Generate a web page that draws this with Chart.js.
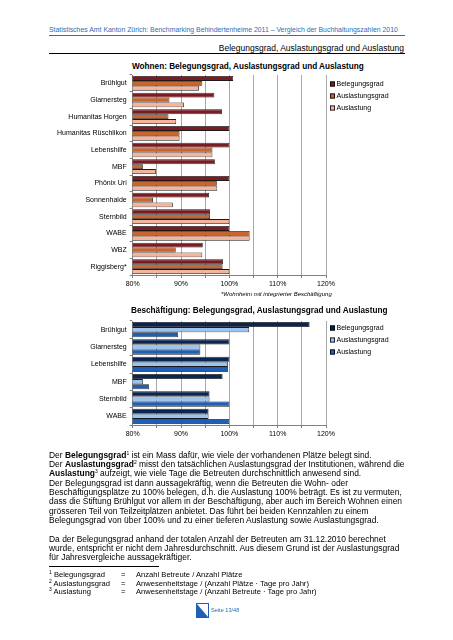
<!DOCTYPE html>
<html>
<head>
<meta charset="utf-8">
<script src="https://cdn.jsdelivr.net/npm/chart.js@4/dist/chart.umd.min.js"></script>
<style>
  body { margin: 0; background: #fff; width: 453px; height: 640px; position: relative; overflow: hidden;
         font-family: "Liberation Sans", Arial, sans-serif; color: #000; }
  .abs { position: absolute; white-space: nowrap; }
  .line { position: absolute; left: 49px; white-space: nowrap; font-size: 8.45px; line-height: 10px; }
  sup { font-size: 5px; vertical-align: 3px; line-height: 0; }
  canvas { position: absolute; left: 0; }
</style>
</head>
<body>

<div class="abs" style="left:49px; top:25.5px; font-size:6.9px; color:#2f6db5;">Statistisches Amt Kanton Zürich: Benchmarking Behindertenheime 2011 – Vergleich der Buchhaltungszahlen 2010</div>
<div class="abs" style="left:49px; top:35px; width:356px; height:1px; background:#2f6db5;"></div>
<div class="abs" style="right:49px; top:43px; font-size:8.5px;">Belegungsgrad, Auslastungsgrad und Auslastung</div>
<div class="abs" style="left:49px; top:53px; width:356px; height:1px; background:#000;"></div>

<div class="abs" style="left:132px; top:62px; font-size:8.2px; font-weight:bold;">Wohnen: Belegungsgrad, Auslastungsgrad und Auslastung</div>
<canvas id="wohnen" width="453" height="240" style="top:60px"></canvas>
<div class="abs" style="left:221px; top:290.5px; font-size:6px; font-style:italic;">*Wohnheim mit integrierter Beschäftigung</div>

<div class="abs" style="left:131px; top:306px; font-size:8.2px; font-weight:bold;">Beschäftigung: Belegungsgrad, Auslastungsgrad und Auslastung</div>
<canvas id="beschaeftigung" width="453" height="140" style="top:310px"></canvas>

<div class="line" style="top:450px">Der <b>Belegungsgrad</b><sup>1</sup> ist ein Mass dafür, wie viele der vorhandenen Plätze belegt sind.</div>
<div class="line" style="top:459px">Der <b>Auslastungsgrad</b><sup>2</sup> misst den tatsächlichen Auslastungsgrad der Institutionen, während die</div>
<div class="line" style="top:468px"><b>Auslastung</b><sup>3</sup> aufzeigt, wie viele Tage die Betreuten durchschnittlich anwesend sind.</div>
<div class="line" style="top:477.5px">Der Belegungsgrad ist dann aussagekräftig, wenn die Betreuten die Wohn- oder</div>
<div class="line" style="top:487px">Beschäftigungsplätze zu 100% belegen, d.h. die Auslastung 100% beträgt. Es ist zu vermuten,</div>
<div class="line" style="top:496px">dass die Stiftung Brühlgut vor allem in der Beschäftigung, aber auch im Bereich Wohnen einen</div>
<div class="line" style="top:505.5px">grösseren Teil von Teilzeitplätzen anbietet. Das führt bei beiden Kennzahlen zu einem</div>
<div class="line" style="top:515px">Belegungsgrad von über 100% und zu einer tieferen Auslastung sowie Auslastungsgrad.</div>
<div class="line" style="top:533.5px">Da der Belegungsgrad anhand der totalen Anzahl der Betreuten am 31.12.2010 berechnet</div>
<div class="line" style="top:542.5px">wurde, entspricht er nicht dem Jahresdurchschnitt. Aus diesem Grund ist der Auslastungsgrad</div>
<div class="line" style="top:551.5px">für Jahresvergleiche aussagekräftiger.</div>

<div class="abs" style="left:49px; top:566px; width:110px; height:1px; background:#000;"></div>
<div class="abs" style="left:49px; top:570px; font-size:7.6px; line-height:9px;"><sup>1</sup> Belegungsgrad</div>
<div class="abs" style="left:121px; top:570px; font-size:7.6px; line-height:9px;">=</div>
<div class="abs" style="left:136px; top:570px; font-size:7.6px; line-height:9px;">Anzahl Betreute / Anzahl Plätze</div>
<div class="abs" style="left:49px; top:578.5px; font-size:7.6px; line-height:9px;"><sup>2</sup> Auslastungsgrad</div>
<div class="abs" style="left:121px; top:578.5px; font-size:7.6px; line-height:9px;">=</div>
<div class="abs" style="left:136px; top:578.5px; font-size:7.6px; line-height:9px;">Anwesenheitstage / (Anzahl Plätze · Tage pro Jahr)</div>
<div class="abs" style="left:49px; top:587px; font-size:7.6px; line-height:9px;"><sup>3</sup> Auslastung</div>
<div class="abs" style="left:121px; top:587px; font-size:7.6px; line-height:9px;">=</div>
<div class="abs" style="left:136px; top:587px; font-size:7.6px; line-height:9px;">Anwesenheitstage / (Anzahl Betreute · Tage pro Jahr)</div>

<svg class="abs" style="left:196px; top:603px;" width="13" height="15">
  <rect x="0.5" y="0.5" width="12" height="14" fill="#fff" stroke="#1f5fb5" stroke-width="1"/>
  <polygon points="0.5,0.5 12.5,14.5 0.5,14.5" fill="#1f5fb5"/>
</svg>
<div class="abs" style="left:211px; top:607px; font-size:5.6px; color:#2f6db5;">Seite 13/48</div>

<script>
// Wohnen
const wohnenLabels = ['Brühlgut', 'Glarnersteg', 'Humanitas Horgen', 'Humanitas Rüschlikon', 'Lebenshilfe', 'MBF',
                      'Phönix Uri', 'Sonnenhalde', 'Sternbild', 'WABE', 'WBZ', 'Riggisberg*'];
const wohnenBelegungsgrad   = [100.8, 96.9, 98.5, 100, 100, 97.0, 100, 95.8, 96.0, 100, 94.5, 98.7];
const wohnenAuslastungsgrad = [94.4, 87.6, 87.4, 89.7, 96.5, 82.1, 97.4, 84.2, 96.0, 104.2, 88.9, 98.6];
const wohnenAuslastung      = [93.7, 90.6, 89.0, 89.7, 96.5, 84.8, 97.5, 88.3, 100, 104.2, 94.4, 100];

// Beschäftigung
const beschLabels = ['Brühlgut', 'Glarnersteg', 'Lebenshilfe', 'MBF', 'Sternbild', 'WABE'];
const beschBelegungsgrad   = [116.6, 100, 100, 98.6, 95.9, 95.7];
const beschAuslastungsgrad = [104.1, 94.0, 99.7, 82.1, 95.9, 95.7];
const beschAuslastung      = [89.4, 94.0, 99.7, 83.4, 100, 100];

const seriesNames = ['Belegungsgrad', 'Auslastungsgrad', 'Auslastung'];
const xTicks = { min: 80, max: 120, step: 5 };

// legend drawn at a fixed spot to the right of the plot
const sideLegend = {
    id: 'sideLegend',
    afterDraw(chart, args, opts) {
        const ctx = chart.ctx;
        ctx.save();
        ctx.font = '7px "Liberation Sans", Arial, sans-serif';
        ctx.textBaseline = 'middle';
        chart.data.datasets.forEach((ds, i) => {
            const y = opts.y + i * 12;
            ctx.fillStyle = ds.backgroundColor;
            ctx.fillRect(opts.x, y - 2.5, 5, 5);
            ctx.strokeStyle = '#000';
            ctx.lineWidth = 0.8;
            ctx.strokeRect(opts.x + 0.4, y - 2.1, 4.2, 4.2);
            ctx.fillStyle = '#000';
            ctx.fillText(ds.label, opts.x + 6.5, y);
        });
        ctx.restore();
    }
};

function makeChart(id, labels, values, colors, plotTop, legendY) {
    const ctx = document.getElementById(id).getContext('2d');
    return new Chart(ctx, {
        type: 'bar',
        data: {
            labels: labels,
            datasets: values.map((v, i) => ({
                label: seriesNames[i],
                data: v,
                backgroundColor: colors[i],
                borderColor: '#1a1a1a',
                borderWidth: 0.8,
                borderSkipped: false,
                categoryPercentage: 0.88,
                barPercentage: 1.0
            }))
        },
        options: {
            indexAxis: 'y',
            responsive: false,
            animation: false,
            layout: { padding: { left: 0, right: 127, top: plotTop, bottom: 0 } },
            plugins: {
                legend: { display: false },
                tooltip: { enabled: false },
                sideLegend: { x: 330, y: legendY }
            },
            scales: {
                x: {
                    min: xTicks.min,
                    max: xTicks.max,
                    ticks: {
                        stepSize: xTicks.step,
                        autoSkip: false,
                        maxRotation: 0,
                        padding: 2,
                        color: '#000',
                        font: { family: '"Liberation Sans", Arial, sans-serif', size: 7 },
                        callback: v => (v % 10 === 0 ? v + '%' : '')
                    },
                    grid: { color: '#a8a8a8', lineWidth: 1, tickLength: 3, tickColor: '#808080' },
                    border: { color: '#808080' },
                    afterFit: s => { s.height = 25; }
                },
                y: {
                    ticks: {
                        padding: 3,
                        color: '#000',
                        font: { family: '"Liberation Sans", Arial, sans-serif', size: 7 }
                    },
                    grid: { drawOnChartArea: false, tickLength: 3, color: '#808080', offset: true },
                    border: { color: '#808080' },
                    afterFit: s => { s.width = 132.7; }
                }
            }
        },
        plugins: [sideLegend]
    });
}

makeChart('wohnen', wohnenLabels,
    [wohnenBelegungsgrad, wohnenAuslastungsgrad, wohnenAuslastung],
    ['#7a1c24', '#c8662e', '#f5b49c'], 15, 24);

makeChart('beschaeftigung', beschLabels,
    [beschBelegungsgrad, beschAuslastungsgrad, beschAuslastung],
    ['#0b2550', '#9cc3ee', '#1f5fb5'], 11, 18);
</script>
</body>
</html>
